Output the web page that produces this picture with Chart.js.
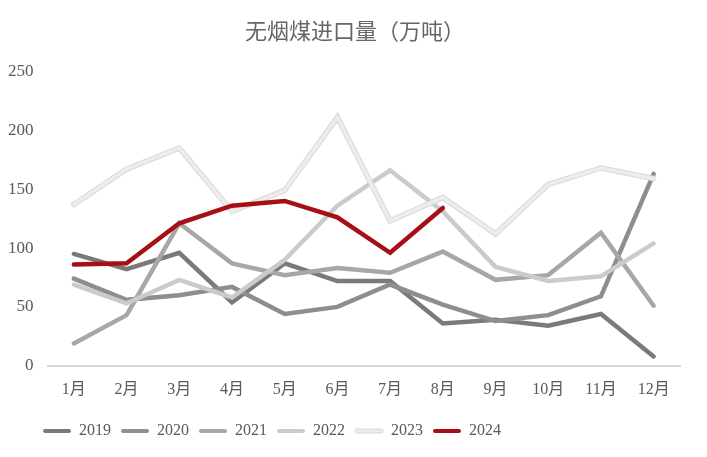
<!DOCTYPE html>
<html>
<head>
<meta charset="utf-8">
<script src="https://cdn.jsdelivr.net/npm/chart.js@4"></script>
<style>
html,body{margin:0;padding:0;background:#fff;}
#wrap{width:707px;height:457px;}
</style>
</head>
<body>
<div id="wrap"><canvas id="c" width="707" height="457"></canvas></div>
<script>
const titleText = '无烟煤进口量（万吨）';
const months = ['1月','2月','3月','4月','5月','6月','7月','8月','9月','10月','11月','12月'];
const yTicks = [0, 50, 100, 150, 200, 250];
const s2019 = [95, 82, 96, 54, 87, 72, 72, 36, 39, 34, 44, 8];
const s2020 = [74, 56, 60, 67, 44, 50, 69, 52, 38, 43, 59, 163];
const s2021 = [19, 43, 121, 87, 77, 83, 79, 97, 73, 77, 113, 51];
const s2022 = [69, 53, 73, 58, 90, 136, 166, 131, 84, 72, 76, 104];
const s2023 = [137, 167, 185, 131, 149, 211, 123, 143, 112, 154, 168, 159];
const s2024 = [86, 87, 121, 136, 140, 126, 96, 134];

const textColor = '#595959';
const serifFont = "'Liberation Serif', 'Noto Sans CJK SC', serif";

function ds(label, data, color, order, width) {
  return {
    label: label, data: data,
    borderColor: color, backgroundColor: color,
    borderWidth: width || 4.5, pointRadius: 0, pointHoverRadius: 0,
    tension: 0, fill: false, order: order,
    borderJoinStyle: 'miter', borderCapStyle: 'round'
  };
}

const shiftBoxes = {
  id: 'shiftBoxes',
  afterLayout(chart) {
    const lg = chart.legend;
    if (lg) { lg.left += 39; lg.right += 39; }
    const tt = chart.titleBlock;
    if (tt) { tt.left += 18; tt.right += 18; }
  }
};

const outline2023 = ds('2023-outline', s2023, '#d8d8d8', 2.5, 5.5);

new Chart(document.getElementById('c'), {
  type: 'line',
  data: {
    labels: months,
    datasets: [
      ds('2019', s2019, '#7a7a7a', 6),
      ds('2020', s2020, '#8e8e8e', 5),
      ds('2021', s2021, '#a7a7a7', 4),
      ds('2022', s2022, '#cbcbcb', 3),
      ds('2023', s2023, '#ededed', 2, 3.5),
      ds('2024', s2024, '#a50f15', 1),
      outline2023
    ]
  },
  options: {
    responsive: false,
    animation: false,
    devicePixelRatio: 1,
    layout: { padding: { left: -6, right: 27, top: 0, bottom: 8 } },
    plugins: {
      title: {
        display: true, text: titleText, color: '#666666',
        font: { family: "'Noto Sans CJK SC', sans-serif", size: 22, weight: 'normal' },
        padding: { top: 17, bottom: 28 }
      },
      legend: {
        display: true, position: 'bottom', align: 'start',
        labels: {
          color: textColor,
          font: { family: serifFont, size: 16 },
          boxWidth: 28, boxHeight: 4, padding: 10,
          useBorderRadius: true, borderRadius: 2,
          filter: (item) => item.text.indexOf('outline') < 0,
          sort: (a, b) => a.datasetIndex - b.datasetIndex,
          generateLabels(chart) {
            const items = Chart.defaults.plugins.legend.labels.generateLabels(chart);
            items.forEach(it => {
              const d = chart.data.datasets[it.datasetIndex];
              it.fillStyle = d.borderColor;
              if (d.label === '2023') { it.lineWidth = 1; it.strokeStyle = '#d8d8d8'; }
              else { it.lineWidth = 0; }
            });
            return items;
          }
        }
      },
      tooltip: { enabled: false }
    },
    scales: {
      x: {
        offset: true,
        grid: { display: false, drawTicks: false, offset: true },
        border: { display: true, color: '#d9d9d9', width: 2 },
        ticks: { color: textColor, font: { family: serifFont, size: 16 }, padding: 14, maxRotation: 0 }
      },
      y: {
        min: 0, max: 250,
        afterBuildTicks(scale) { scale.ticks = yTicks.map(v => ({ value: v })); },
        grid: { display: false, drawTicks: false },
        border: { display: false },
        ticks: { color: textColor, font: { family: serifFont, size: 17 }, padding: 14 }
      }
    }
  },
  plugins: [shiftBoxes]
});
</script>
</body>
</html>
